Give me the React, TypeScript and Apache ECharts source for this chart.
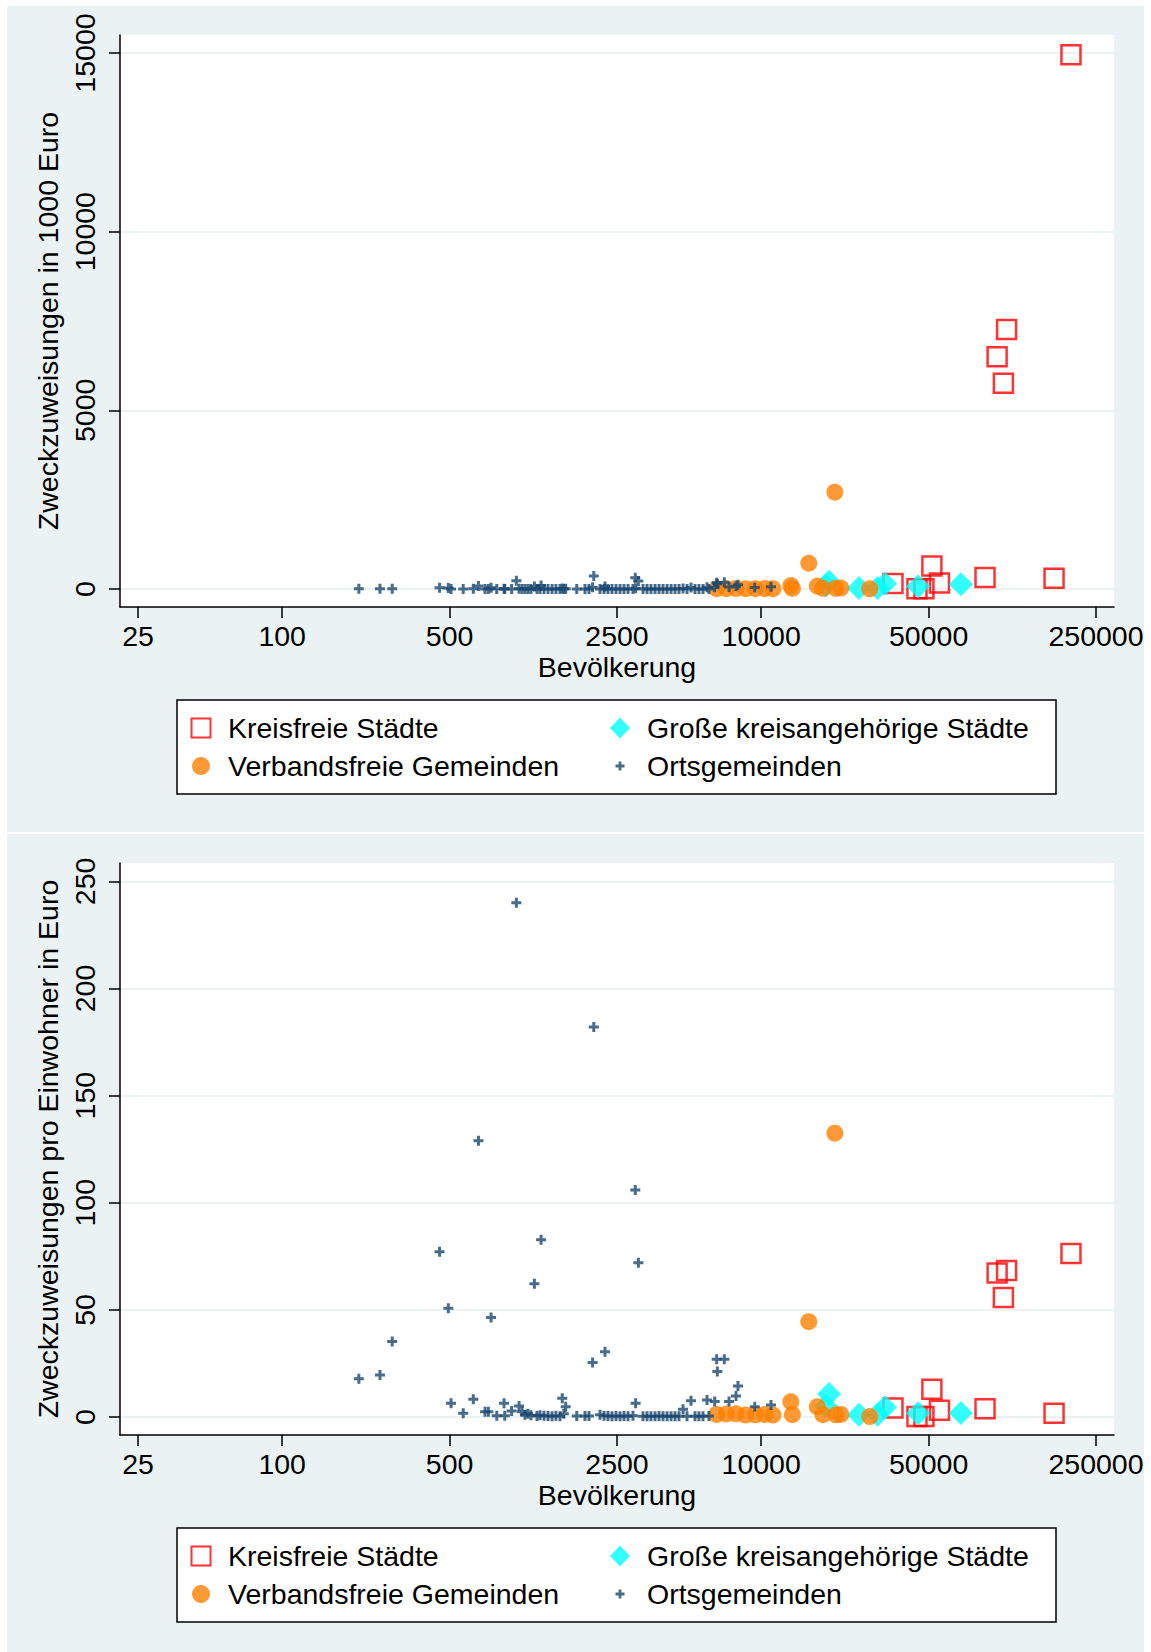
import React, { useEffect, useRef } from "react";
import * as echarts from "echarts";

// ---------- axis ticks ----------
const xTicks = [25, 100, 500, 2500, 10000, 50000, 250000];
const yTicksTotal = [0, 5000, 10000, 15000];
const yTicksPerCap = [0, 50, 100, 150, 200, 250];

// ---------- group names ----------
const nameKF = "Kreisfreie Städte";
const nameGK = "Große kreisangehörige Städte";
const nameVF = "Verbandsfreie Gemeinden";
const nameOG = "Ortsgemeinden";

// ---------- Kreisfreie Städte ----------
const kfPop = [35500, 44700, 47800, 51600, 55500, 86000, 96600, 102600, 105800, 167000, 196500];
const kfTotal = [154, 8, 8, 640, 170, 320, 6500, 5760, 7264, 300, 14950];
const kfPerCap = [4.2, 0.2, 0.2, 13.0, 3.2, 3.8, 67.2, 55.8, 68.4, 1.8, 76.3];

// ---------- Große kreisangehörige Städte ----------
const gkPop = [18600, 19200, 25600, 30600, 32900, 45200, 68200];
const gkTotal = [95, 205, 30, 30, 150, 75, 130];
const gkPerCap = [5.1, 10.7, 1.0, 1.0, 4.6, 1.7, 1.9];

// ---------- Verbandsfreie Gemeinden ----------
const vfPop = [6520, 7160, 7850, 8610, 9460, 10370, 11200, 13300, 13500, 15800, 17150, 18100, 20300, 20500, 21500, 28400];
const vfTotal = [8, 10, 12, 8, 10, 12, 10, 95, 15, 720, 82, 20, 2710, 20, 25, 5];
const vfPerCap = [1.2, 1.4, 1.5, 0.9, 1.0, 1.2, 0.9, 7.1, 1.1, 44.5, 4.8, 1.1, 132.5, 1.0, 1.2, 0.2];

// ---------- Ortsgemeinden ----------
const ogPop = [
  209, 256, 288, 454, 494, 507, 570, 628, 660, 703,
  726, 745, 787, 844, 850, 908, 950, 975, 1003, 1032,
  1062, 1093, 1130, 1159, 1193, 1205, 1239, 1288, 1339, 1390,
  1445, 1477, 1500, 1527, 1698, 1838, 1910, 1977, 2000, 2123,
  2207, 2228, 2292, 2382, 2476, 2574, 2674, 2780, 2915, 2980,
  2990, 3070, 3210, 3336, 3466, 3604, 3745, 3891, 4045, 4204,
  4367, 4538, 4717, 4901, 5093, 5292, 5497, 5715, 5940, 6050,
  6396, 6516, 6560, 7016, 7340, 7850, 8000, 9400, 10990,
];
const ogTotal = [
  4, 5, 10, 35, 25, 3, 1, 5, 85, 2,
  2, 35, 0, 5, 1, 3, 228, 5, 3, 1,
  2, 1, 70, 1, 1, 100, 1, 1, 1, 1,
  0, 13, 2, 7, 1, 1, 1, 50, 364, 2,
  1, 68, 1, 1, 1, 1, 1, 1, 2, 316,
  19, 221, 1, 1, 1, 1, 2, 1, 2, 1,
  2, 1, 17, 2, 39, 2, 2, 2, 47, 3,
  46, 176, 139, 189, 53, 77, 116, 45, 62,
];
const ogPerCap = [
  17.8, 19.6, 35.2, 77.1, 50.8, 6.4, 1.7, 8.3, 129, 2.5,
  2.5, 46.5, 0.6, 6.4, 0.6, 2.8, 240, 5.1, 2.5, 1.0,
  1.5, 0.8, 62.2, 0.5, 0.8, 82.7, 0.6, 0.5, 0.4, 0.6,
  0.3, 8.7, 1.5, 4.8, 0.5, 0.5, 0.5, 25.4, 182, 1.0,
  0.6, 30.5, 0.5, 0.4, 0.5, 0.4, 0.5, 0.4, 0.6, 106,
  6.4, 72, 0.4, 0.3, 0.4, 0.3, 0.5, 0.3, 0.4, 0.3,
  0.4, 0.3, 3.6, 0.4, 7.6, 0.4, 0.3, 0.4, 7.9, 0.5,
  7.2, 27.0, 21.2, 27.0, 7.2, 9.8, 14.5, 4.8, 5.6,
];

const FONT = "'Liberation Sans', Arial, Helvetica, sans-serif";
const FS = 28.5;
const PANEL = "#eaf2f3";
const GRIDLINE = "#eaf2f3";

const plusPath = "path://M3.5,0H6.5V3.5H10V6.5H6.5V10H3.5V6.5H0V3.5H3.5Z";
const iconSquare = "path://M0,0M22,22M1.5,1.5H20.5V20.5H1.5Z";
const iconCircle = "path://M0,0M22,22M11,2A9,9,0,1,1,10.99,2Z";
const iconDiamond = "path://M0,0M22,22M11,0.5L21,11L11,21.5L1,11Z";
const iconPlus = "path://M0,0M22,22M9.6,6.5H12.4V9.6H15.5V12.4H12.4V15.5H9.6V12.4H6.5V9.6H9.6Z";

const pairs = (xs: number[], ys: number[]) => xs.map((x, i) => [x, ys[i]]);

function buildOption() {
  const panelOffset = 828;
  const gridTop = [35, 35 + panelOffset];
  const yNames = ["Zweckzuweisungen in 1000 Euro", "Zweckzuweisungen pro Einwohner in Euro"];
  const yRanges = [
    [-504, 15504],
    [-8.4, 258.6],
  ];
  const yTicks = [yTicksTotal, yTicksPerCap];

  const grids = gridTop.map((t) => ({
    left: 120,
    top: t,
    width: 994,
    height: 572,
    show: true,
    backgroundColor: "#ffffff",
    borderWidth: 0,
    containLabel: false,
    outerBoundsMode: "none",
  }));

  const xAxes = [0, 1].map((g) => ({
    type: "log",
    logBase: 10,
    gridIndex: g,
    min: 21.03,
    max: 297200,
    axisLine: { show: true, onZero: false, lineStyle: { color: "#000", width: 1.5 } },
    axisTick: { show: true, length: 11, customValues: xTicks, lineStyle: { color: "#000", width: 1.5 } },
    axisLabel: {
      customValues: xTicks,
      formatter: (v: number) => String(Math.round(v)),
      fontSize: FS,
      fontFamily: FONT,
      color: "#000",
      margin: 14,
    },
    splitLine: { show: false },
    minorTick: { show: false },
    minorSplitLine: { show: false },
    name: "Bevölkerung",
    nameLocation: "middle",
    nameGap: 45,
    nameTextStyle: { fontSize: FS, fontFamily: FONT, color: "#000" },
  }));

  const yAxes = [0, 1].map((g) => ({
    type: "value",
    gridIndex: g,
    min: yRanges[g][0],
    max: yRanges[g][1],
    axisLine: { show: true, onZero: false, lineStyle: { color: "#000", width: 1.5 } },
    axisTick: { show: true, length: 11, customValues: yTicks[g], lineStyle: { color: "#000", width: 1.5 } },
    axisLabel: {
      customValues: yTicks[g],
      formatter: (v: number) => String(Math.round(v)),
      rotate: 90,
      fontSize: FS,
      fontFamily: FONT,
      color: "#000",
      margin: 21,
    },
    splitLine: { show: true, lineStyle: { color: GRIDLINE, width: 2 } },
    name: yNames[g],
    nameLocation: "middle",
    nameGap: 52,
    nameTextStyle: { fontSize: FS, fontFamily: FONT, color: "#000" },
  }));

  const groups = [
    { name: nameKF, pop: kfPop, vals: [kfTotal, kfPerCap], symbol: "rect", size: 19,
      itemStyle: { color: "rgba(255,255,255,0)", borderColor: "#ff0000", borderWidth: 2.5 } },
    { name: nameGK, pop: gkPop, vals: [gkTotal, gkPerCap], symbol: "diamond", size: 24,
      itemStyle: { color: "#00ffff" } },
    { name: nameVF, pop: vfPop, vals: [vfTotal, vfPerCap], symbol: "circle", size: 17,
      itemStyle: { color: "#ff7f00" } },
    { name: nameOG, pop: ogPop, vals: [ogTotal, ogPerCap], symbol: plusPath, size: 10,
      itemStyle: { color: "#1a476f" } },
  ];

  const series: any[] = [];
  [0, 1].forEach((g) => {
    groups.forEach((gr, k) => {
      series.push({
        type: "scatter",
        name: gr.name,
        xAxisIndex: g,
        yAxisIndex: g,
        symbol: gr.symbol,
        symbolSize: gr.size,
        itemStyle: gr.itemStyle,
        z: 2 + k * 0.01,
        clip: false,
        emphasis: { disabled: true },
        data: pairs(gr.pop, gr.vals[g]),
      });
    });
  });

  const legendText = { fontSize: FS, fontFamily: FONT, color: "#000", lineHeight: 30 };
  const legends: any[] = [];
  [0, 1].forEach((g) => {
    const off = g * panelOffset;
    legends.push({
      orient: "vertical",
      left: 189,
      top: 713 + off,
      itemWidth: 44,
      itemHeight: 22,
      itemGap: 8,
      padding: 0,
      selectedMode: false,
      textStyle: legendText,
      data: [
        { name: nameKF, icon: iconSquare },
        { name: nameVF, icon: iconCircle },
      ],
    });
    legends.push({
      orient: "vertical",
      left: 609,
      top: 713 + off,
      itemWidth: 44,
      itemHeight: 22,
      itemGap: 8,
      padding: 0,
      selectedMode: false,
      textStyle: legendText,
      data: [
        { name: nameGK, icon: iconDiamond },
        { name: nameOG, icon: iconPlus },
      ],
    });
  });

  const graphics: any[] = [
    { type: "rect", z: -10, silent: true, shape: { x: 7, y: 6, width: 1137, height: 826 }, style: { fill: PANEL } },
    { type: "rect", z: -10, silent: true, shape: { x: 7, y: 834, width: 1137, height: 830 }, style: { fill: PANEL } },
    { type: "rect", z: 3, silent: true, shape: { x: 177, y: 700, width: 879, height: 94 },
      style: { fill: "#fff", stroke: "#000", lineWidth: 1.5 } },
    { type: "rect", z: 3, silent: true, shape: { x: 177, y: 700 + panelOffset, width: 879, height: 94 },
      style: { fill: "#fff", stroke: "#000", lineWidth: 1.5 } },
  ];

  return {
    animation: false,
    backgroundColor: "#ffffff",
    textStyle: { fontFamily: FONT },
    grid: grids,
    xAxis: xAxes,
    yAxis: yAxes,
    legend: legends,
    graphic: { elements: graphics },
    series,
  };
}

export default function App() {
  const ref = useRef<HTMLDivElement>(null);
  useEffect(() => {
    if (!ref.current) return;
    const chart = echarts.init(ref.current, null, { renderer: "svg" });
    chart.setOption(buildOption() as any);
    return () => {
      chart.dispose();
    };
  }, []);
  return (
    <div
      ref={ref}
      style={{ position: "absolute", left: 0, top: 0, width: 1151, height: 1652, background: "#fff" }}
    />
  );
}
